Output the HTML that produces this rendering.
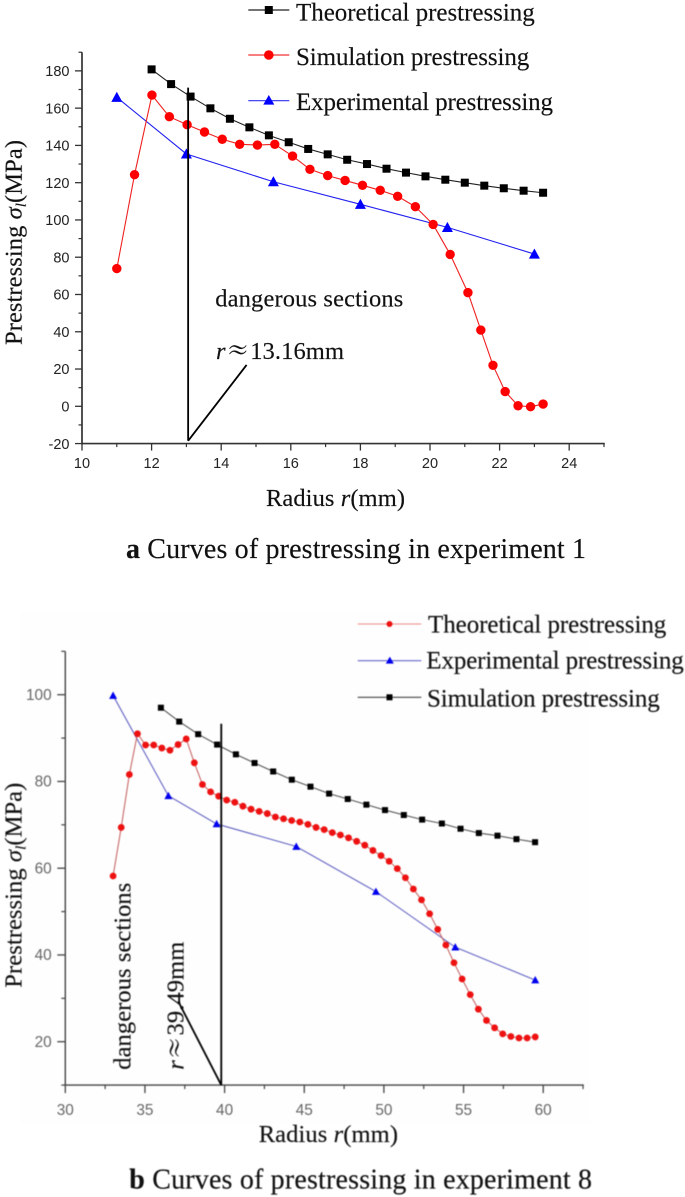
<!DOCTYPE html>
<html lang="en">
<head>
<meta charset="utf-8">
<title>Curves of prestressing</title>
<style>
html,body{margin:0;padding:0;background:#fff;}
svg{display:block;}
.serif{font-family:"Liberation Serif","DejaVu Serif",serif;fill:#111;stroke:#111;stroke-width:0.15px;}
.tick-a{font-family:"Liberation Sans",Arial,sans-serif;font-size:14.5px;fill:#222;}
.tick-b{font-family:"Liberation Sans",Arial,sans-serif;font-size:15.4px;fill:#666;}
.soft-a{filter:blur(0.3px);}
.soft-b{filter:blur(0.45px);}
</style>
</head>
<body>
<svg id="fig" width="685" height="1197" viewBox="0 0 685 1197" xmlns="http://www.w3.org/2000/svg">
  <rect x="0" y="0" width="685" height="1197" fill="#ffffff"/>
  <rect x="20" y="612" width="570" height="512" fill="#fefefe"/>

  <g id="chart-a" class="soft-a"></g>
  <g id="chart-b" class="soft-b"></g>

  <!-- Chart a legend -->
  <g class="soft-a">
    <g>
      <line x1="248.3" y1="10" x2="289.3" y2="10" stroke="#222" stroke-width="1.2"/>
      <rect x="264.8" y="6" width="8" height="8" fill="#000"/>
      <text class="serif" x="296" y="20.7" font-size="25" textLength="238.7" lengthAdjust="spacing">Theoretical prestressing</text>
    </g>
    <g>
      <line x1="248.3" y1="55" x2="289.3" y2="55" stroke="#f03030" stroke-width="1.2"/>
      <circle cx="268.8" cy="55" r="4.8" fill="#ff0000"/>
      <text class="serif" x="296" y="65" font-size="25" textLength="233.3" lengthAdjust="spacing">Simulation prestressing</text>
    </g>
    <g>
      <line x1="248.3" y1="100.7" x2="289.3" y2="100.7" stroke="#3030f0" stroke-width="1.2"/>
      <polygon points="268.8,95 274.3,104.6 263.3,104.6" fill="#0000ff"/>
      <text class="serif" x="296" y="110" font-size="25" textLength="257" lengthAdjust="spacing">Experimental prestressing</text>
    </g>
  </g>

  <!-- Chart a labels -->
  <g class="soft-a">
  <text class="serif" transform="translate(21.7,345) rotate(-90)" font-size="24.5" textLength="205" lengthAdjust="spacing">Prestressing <tspan font-style="italic">σ</tspan><tspan font-style="italic" font-size="15" dy="4">l</tspan><tspan dy="-4">(MPa)</tspan></text>
  <text class="serif" x="266" y="506" font-size="24.5" textLength="139" lengthAdjust="spacing">Radius <tspan font-style="italic">r</tspan>(mm)</text>
  <text class="serif" x="215.3" y="306.7" font-size="24.5" textLength="188" lengthAdjust="spacing">dangerous sections</text>
  <text class="serif" x="216" y="359" font-size="24.5" textLength="128" lengthAdjust="spacing"><tspan font-style="italic">r</tspan><tspan font-family="'Noto Serif CJK SC','Noto Sans CJK SC',serif">≈</tspan>13.16mm</text>
  <text class="serif" x="126" y="558" font-size="28" textLength="460" lengthAdjust="spacing"><tspan font-weight="bold">a</tspan> Curves of prestressing in experiment 1</text>
  </g>

  <!-- Chart b legend -->
  <g class="soft-b">
    <g>
      <line x1="357.7" y1="624" x2="421.3" y2="624" stroke="#ee8888" stroke-width="1.1"/>
      <circle cx="389.5" cy="624" r="3" fill="#ee1111"/>
      <text class="serif" x="428" y="632.7" font-size="25" textLength="238.3" lengthAdjust="spacing">Theoretical prestressing</text>
    </g>
    <g>
      <line x1="357.7" y1="660.7" x2="421.3" y2="660.7" stroke="#6666cc" stroke-width="1.1"/>
      <polygon points="389.8,656.6 393.8,663.6 385.8,663.6" fill="#0000ee"/>
      <text class="serif" x="426.3" y="668.3" font-size="25" textLength="257.4" lengthAdjust="spacing">Experimental prestressing</text>
    </g>
    <g>
      <line x1="357.7" y1="697.3" x2="421.3" y2="697.3" stroke="#444" stroke-width="1.1"/>
      <rect x="386.5" y="694.3" width="6" height="6" fill="#000"/>
      <text class="serif" x="427" y="706.7" font-size="25" textLength="232.7" lengthAdjust="spacing">Simulation prestressing</text>
    </g>
  </g>

  <!-- Chart b labels -->
  <g class="soft-b">
  <text class="serif" transform="translate(21.7,987.7) rotate(-90)" font-size="24.5" textLength="205" lengthAdjust="spacing">Prestressing <tspan font-style="italic">σ</tspan><tspan font-style="italic" font-size="15" dy="4">l</tspan><tspan dy="-4">(MPa)</tspan></text>
  <text class="serif" x="258.7" y="1142" font-size="24.5" textLength="139.3" lengthAdjust="spacing">Radius <tspan font-style="italic">r</tspan>(mm)</text>
  <text class="serif" transform="translate(130.7,1069.7) rotate(-90)" font-size="24.5" textLength="187" lengthAdjust="spacing">dangerous sections</text>
  <text class="serif" transform="translate(183.3,1069.7) rotate(-90)" font-size="24.5" textLength="128" lengthAdjust="spacing"><tspan font-style="italic">r</tspan><tspan font-family="'Noto Serif CJK SC','Noto Sans CJK SC',serif">≈</tspan>39.49mm</text>
  <text class="serif" x="129.3" y="1188.7" font-size="28" textLength="462.7" lengthAdjust="spacing"><tspan font-weight="bold">b</tspan> Curves of prestressing in experiment 8</text>
  </g>

<script>
// ---- Chart a data ----
const aTheoX = [12,12.56,13.12,13.69,14.25,14.81,15.37,15.94,16.5,17.06,17.62,18.19,18.75,19.31,19.87,20.44,21,21.56,22.12,22.69,23.25];
const aTheoY = [180.8,172.9,166.2,159.9,154.3,149.7,145.4,141.7,138.1,135.2,132.3,130,127.5,125.4,123.4,121.6,120,118.4,117,115.7,114.6];
const aSimX = [11,11.51,12.01,12.51,13.02,13.52,14.03,14.53,15.04,15.54,16.05,16.55,17.06,17.56,18.06,18.57,19.07,19.58,20.09,20.58,21.09,21.46,21.81,22.16,22.53,22.89,23.25];
const aSimY = [73.9,124.3,167,155.4,151.1,147.2,143.3,140.6,140.2,140.6,134.3,127.2,123.8,121.2,118.6,115.9,112.7,107.1,97.6,81.5,61,40.9,22,7.9,0.3,-0.2,1.2];
const aExpX = [11,13,15.5,18,20.5,23];
const aExpY = [165.8,135.4,120.5,108.4,96,81.7];
const aXTicks = [10,12,14,16,18,20,22,24];
const aXMinor = [11,13,15,17,19,21,23,25];
const aYTicks = [-20,0,20,40,60,80,100,120,140,160,180];
const aYMinor = [-10,10,30,50,70,90,110,130,150,170,190];
const aDangerX = [13.05,13.05];
const aDangerY = [171,-18.5];
const aLeaderX = [13.05,14.73];
const aLeaderY = [-18.5,22.2];

// ---- Chart b data ----
const bTheoX = [33,33.51,34.02,34.53,35.04,35.55,36.06,36.57,37.08,37.59,38.1,38.61,39.12,39.63,40.13,40.64,41.15,41.66,42.17,42.68,43.19,43.7,44.21,44.72,45.23,45.74,46.25,46.76,47.27,47.78,48.29,48.8,49.31,49.82,50.33,50.84,51.35,51.85,52.36,52.87,53.38,53.89,54.4,54.91,55.42,55.93,56.44,56.95,57.46,57.97,58.48,58.99,59.5];
const bTheoY = [58.2,69.4,81.6,91,88.4,88.4,87.7,87.2,88.5,89.8,84.3,79.3,77.6,76.6,75.7,75.2,74.3,73.6,73.1,72.6,71.8,71.4,71,70.65,70.1,69.4,68.9,68.2,67.65,67,66.2,65.3,64.1,62.9,61.6,59.9,57.8,55.2,52.7,49.5,45.9,42.3,38.2,34.45,30.85,27.5,24.9,23.2,21.8,21.2,20.85,20.85,21.1];
const bSimX = [36,37.15,38.34,39.53,40.71,41.88,43.05,44.22,45.39,46.56,47.73,48.9,50.07,51.25,52.4,53.64,54.81,55.96,57.13,58.32,59.49];
const bSimY = [97,93.8,90.9,88.5,86.25,84.25,82.3,80.4,78.8,77.2,75.95,74.65,73.4,72.26,71.2,70.3,69.1,68.1,67.5,66.7,66];
const bExpX = [33,36.47,39.5,44.5,49.5,54.48,59.5];
const bExpY = [99.8,76.7,70.2,65,54.6,41.8,34.2];
const bXTicks = [30,35,40,45,50,55,60];
const bXMinor = [32.5,37.5,42.5,47.5,52.5,57.5,62.5];
const bYTicks = [20,40,60,80,100];
const bYMinor = [10,30,50,70,90,110];
const bDangerX = [39.79,39.79];
const bDangerY = [93.3,10];
const bLeaderX = [39.79,37.09];
const bLeaderY = [10,29.3];

// ---- Axis functions ----
function xA(v){ return 82 + (v - 10) * 34.8; }
function yA(v){ return 406.3 - v * 1.8635; }
function xB(v){ return 65.3 + (v - 30) * 15.93; }
function yB(v){ return 694.7 + (100 - v) * 4.3375; }

const NS = 'http://www.w3.org/2000/svg';
function make(parent, tag, props){
  const el = document.createElementNS(NS, tag);
  for (const k in props) el.setAttribute(k, props[k]);
  parent.appendChild(el);
  return el;
}

function drawLine(parent, name, xs, ys, fx, fy, color, width){
  const pts = xs.map(function(x, i){ return fx(x).toFixed(2) + ',' + fy(ys[i]).toFixed(2); }).join(' ');
  const el = make(parent, 'polyline', {points: pts, fill: 'none', stroke: color, 'stroke-width': width});
  
  
}

function drawMarkers(parent, name, xs, ys, fx, fy, kind, size, color){
  xs.forEach(function(x, i){
    const cx = fx(x), cy = fy(ys[i]);
    let el;
    if (kind === 'square') {
      el = make(parent, 'rect', {x: cx - size / 2, y: cy - size / 2, width: size, height: size, fill: color});
    } else if (kind === 'circle') {
      el = make(parent, 'circle', {cx: cx, cy: cy, r: size / 2, fill: color});
    } else {
      const h = size * 0.92;
      el = make(parent, 'polygon', {points: cx + ',' + (cy - h * 0.55) + ' ' + (cx + size / 2) + ',' + (cy + h * 0.45) + ' ' + (cx - size / 2) + ',' + (cy + h * 0.45), fill: color});
    }
    
    
  });
}

function drawAxes(parent, opt){
  const x0 = opt.fx(opt.xMin), x1 = opt.fx(opt.xMax), y0 = opt.fy(opt.yMin), y1 = opt.fy(opt.yMax);
  const yAxis = make(parent, 'line', {x1: x0, y1: y0 + 0.8, x2: x0, y2: y1, stroke: opt.axisColor, 'stroke-width': opt.axisWidth});
  
  
  const xAxis = make(parent, 'line', {x1: x0 - 0.8, y1: y0, x2: x1 + 0.8, y2: y0, stroke: opt.axisColor, 'stroke-width': opt.axisWidth});
  
  

  opt.xTicks.forEach(function(v){
    const t = make(parent, 'line', {x1: opt.fx(v), y1: y0, x2: opt.fx(v), y2: y0 + opt.major, stroke: opt.axisColor, 'stroke-width': 1.3});
    
    
    const l = make(parent, 'text', {x: opt.fx(v), y: opt.xLabelY, 'text-anchor': 'middle', 'class': opt.labelClass});
    l.textContent = String(v);
    
    
  });
  opt.xMinor.forEach(function(v){
    const t = make(parent, 'line', {x1: opt.fx(v), y1: y0, x2: opt.fx(v), y2: y0 + opt.minor, stroke: opt.axisColor, 'stroke-width': 1.2});
    
    
  });
  opt.yTicks.forEach(function(v){
    const t = make(parent, 'line', {x1: x0, y1: opt.fy(v), x2: x0 - opt.major, y2: opt.fy(v), stroke: opt.axisColor, 'stroke-width': 1.3});
    
    
    const l = make(parent, 'text', {x: opt.yLabelX, y: opt.fy(v) + 5.2, 'text-anchor': 'end', 'class': opt.labelClass});
    l.textContent = String(v);
    
    
  });
  opt.yMinor.forEach(function(v){
    const t = make(parent, 'line', {x1: x0, y1: opt.fy(v), x2: x0 - opt.minor, y2: opt.fy(v), stroke: opt.axisColor, 'stroke-width': 1.2});
    
    
  });
}

function drawAnnotation(parent, xs, ys, fx, fy, name, width){
  const el = make(parent, 'line', {x1: fx(xs[0]), y1: fy(ys[0]), x2: fx(xs[1]), y2: fy(ys[1]), stroke: '#000', 'stroke-width': width});
  
  
}

// ---- Render chart a ----
const gA = document.getElementById('chart-a');
drawAxes(gA, {fx: xA, fy: yA, xMin: 10, xMax: 25, yMin: -20, yMax: 190, xTicks: aXTicks, xMinor: aXMinor, yTicks: aYTicks, yMinor: aYMinor, major: 7, minor: 3.5, axisColor: '#333', axisWidth: 1.7, xLabelY: 468, yLabelX: 69.5, labelClass: 'tick-a'});
drawLine(gA, 'experimental-prestressing-a', aExpX, aExpY, xA, yA, '#2222f0', 1.1);
drawLine(gA, 'simulation-prestressing-a', aSimX, aSimY, xA, yA, '#f02020', 1.1);
drawLine(gA, 'theoretical-prestressing-a', aTheoX, aTheoY, xA, yA, '#222', 1.1);
drawMarkers(gA, 'experimental-prestressing-a', aExpX, aExpY, xA, yA, 'triangle', 11, '#0000ff');
drawMarkers(gA, 'simulation-prestressing-a', aSimX, aSimY, xA, yA, 'circle', 9.4, '#ff0000');
drawMarkers(gA, 'theoretical-prestressing-a', aTheoX, aTheoY, xA, yA, 'square', 8, '#000');
drawAnnotation(gA, aDangerX, aDangerY, xA, yA, 'dangerous-section-line-a', 1.8);
drawAnnotation(gA, aLeaderX, aLeaderY, xA, yA, 'leader-line-a', 1.8);

// ---- Render chart b ----
const gB = document.getElementById('chart-b');
drawAxes(gB, {fx: xB, fy: yB, xMin: 30, xMax: 62.5, yMin: 10, yMax: 110, xTicks: bXTicks, xMinor: bXMinor, yTicks: bYTicks, yMinor: bYMinor, major: 8, minor: 4, axisColor: '#444', axisWidth: 1.4, xLabelY: 1115, yLabelX: 51.7, labelClass: 'tick-b'});
drawLine(gB, 'experimental-prestressing-b', bExpX, bExpY, xB, yB, '#6464c4', 1.1);
drawLine(gB, 'theoretical-prestressing-b', bTheoX, bTheoY, xB, yB, '#c86868', 1.1);
drawLine(gB, 'simulation-prestressing-b', bSimX, bSimY, xB, yB, '#555', 1.1);
drawMarkers(gB, 'experimental-prestressing-b', bExpX, bExpY, xB, yB, 'triangle', 8, '#0000ee');
drawMarkers(gB, 'theoretical-prestressing-b', bTheoX, bTheoY, xB, yB, 'circle', 6.8, '#ee1111');
drawMarkers(gB, 'simulation-prestressing-b', bSimX, bSimY, xB, yB, 'square', 6, '#000');
drawAnnotation(gB, bDangerX, bDangerY, xB, yB, 'dangerous-section-line-b', 1.8);
drawAnnotation(gB, bLeaderX, bLeaderY, xB, yB, 'leader-line-b', 1.8);
</script>
</svg>
</body>
</html>
